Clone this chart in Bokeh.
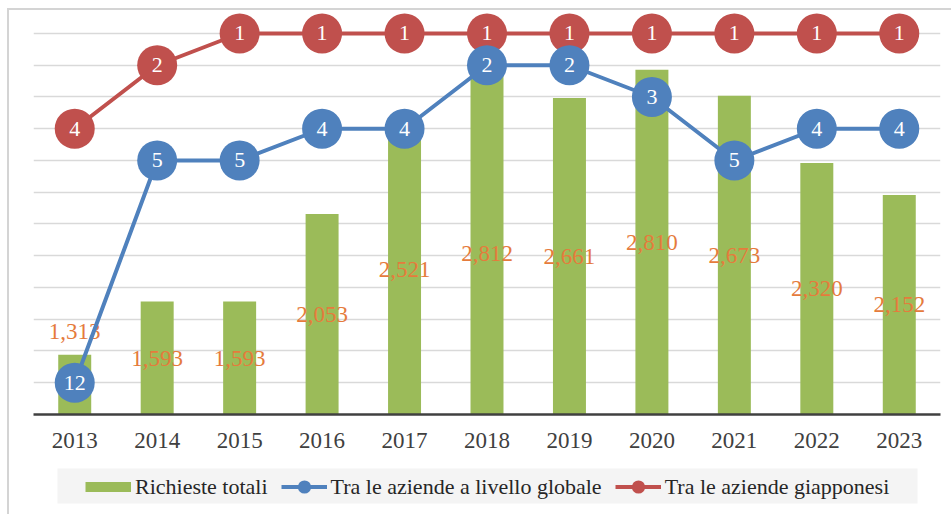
from bokeh.plotting import figure
from bokeh.layouts import column
from bokeh.models import (Range1d, FactorRange, FixedTicker, ColumnDataSource,
                          Legend, LegendItem, BoxAnnotation)
from bokeh.core.properties import value
from bokeh.embed import file_html
from bokeh.resources import INLINE

# ---------------- data ----------------
years = ["2013", "2014", "2015", "2016", "2017", "2018",
         "2019", "2020", "2021", "2022", "2023"]
requests_total = [1313, 1593, 1593, 2053, 2521, 2812, 2661, 2810, 2673, 2320, 2152]
rank_global = [12, 5, 5, 4, 4, 2, 2, 3, 5, 4, 4]
rank_japan = [4, 2, 1, 1, 1, 1, 1, 1, 1, 1, 1]

series_names = ["Richieste totali",
                "Tra le aziende a livello globale",
                "Tra le aziende giapponesi"]

# ---------------- scales ----------------
RANK_BOTTOM = 13          # rank at the x axis line
RANK_TOP_GRID = 1         # rank at the top gridline
RANK_VIEW_TOP = 0.2756    # a little room above the top gridline
BAR_MIN = 1000            # bar axis minimum (at x axis)
BAR_AT_TOP_GRID = 3000    # bar value at the top gridline
per_rank = (BAR_AT_TOP_GRID - BAR_MIN) / (RANK_BOTTOM - RANK_TOP_GRID)
bar_view_top = BAR_MIN + (RANK_BOTTOM - RANK_VIEW_TOP) * per_rank

GREEN = "#9BBB59"
BLUE = "#4F81BD"
RED = "#C0504D"
ORANGE = "#E57B3C"
SERIF = "Liberation Serif"

# layout (px)
FIG_W = 942
BORDER_L, BORDER_R = 24, 11
FRAME_W = FIG_W - BORDER_L - BORDER_R

# label placement tweaks (screen px), by year
label_above = {"2013": -23}
label_nudge = {"2018": 12}

lab_y, lab_dy = [], []
for yr, v in zip(years, requests_total):
    if yr in label_above:
        lab_y.append(v)
        lab_dy.append(label_above[yr])
    else:
        lab_y.append((BAR_MIN + v) / 2)
        lab_dy.append(label_nudge.get(yr, 0))

src = ColumnDataSource(dict(
    year=years, total=requests_total,
    label=[f"{v:,}" for v in requests_total], lab_y=lab_y, lab_dy=lab_dy,
    glob=rank_global, glob_txt=[str(r) for r in rank_global],
    jp=rank_japan, jp_txt=[str(r) for r in rank_japan],
))

p = figure(x_range=FactorRange(*years, range_padding=0),
           y_range=Range1d(RANK_BOTTOM, RANK_VIEW_TOP),
           width=FIG_W, height=450, output_backend="svg", toolbar_location=None,
           min_border_left=BORDER_L, min_border_right=BORDER_R, min_border_top=0,
           min_border_bottom=46, background_fill_color="white",
           border_fill_color="white", outline_line_color=None)
p.extra_y_ranges = {"bars": Range1d(BAR_MIN, bar_view_top)}

p.yaxis.visible = False
p.xgrid.visible = False
p.ygrid.ticker = FixedTicker(ticks=list(range(RANK_TOP_GRID, RANK_BOTTOM)))
p.ygrid.grid_line_color = "#D9D9D9"
p.ygrid.grid_line_width = 1.5

ax = p.xaxis[0]
ax.axis_line_color = "#404040"
ax.axis_line_width = 2.5
ax.major_tick_line_color = None
ax.minor_tick_line_color = None
ax.major_label_text_font = SERIF
ax.major_label_text_font_size = "23px"
ax.major_label_text_color = "#404040"
ax.major_label_standoff = 12

# bars
p.vbar(x="year", top="total", bottom=BAR_MIN, width=0.4, y_range_name="bars",
       fill_color=GREEN, line_color=None, source=src)
p.text(x="year", y="lab_y", text="label", y_offset="lab_dy", y_range_name="bars",
       text_font=value(SERIF), text_font_size="23px", text_color=ORANGE,
       text_align="center", text_baseline="middle", source=src)

# japan rank
p.line(x="year", y="jp", line_color=RED, line_width=4, source=src)
p.scatter(x="year", y="jp", size=40, fill_color=RED, line_color=None, source=src)
p.text(x="year", y="jp", text="jp_txt", text_font=value(SERIF), text_font_size="22px",
       text_color="white", text_align="center", text_baseline="middle", source=src)

# global rank
p.line(x="year", y="glob", line_color=BLUE, line_width=4, source=src)
p.scatter(x="year", y="glob", size=40, fill_color=BLUE, line_color=None, source=src)
p.text(x="year", y="glob", text="glob_txt", text_font=value(SERIF), text_font_size="22px",
       text_color="white", text_align="center", text_baseline="middle", source=src)

# ---------------- legend strip (own small figure, pixel-unit ranges) ----------------
LG_H = 56
lg = figure(x_range=Range1d(0, FRAME_W), y_range=Range1d(0, LG_H), width=FIG_W, height=LG_H,
            output_backend="svg", toolbar_location=None,
            x_axis_type=None, y_axis_type=None,
            min_border_left=BORDER_L, min_border_right=BORDER_R, min_border_top=0,
            min_border_bottom=0, background_fill_color="white",
            border_fill_color="white", outline_line_color=None)
lg.add_layout(BoxAnnotation(left=24, right=884, bottom=13, top=48,
                            fill_color="#F4F4F4", fill_alpha=1, line_color=None,
                            level="underlay"))
nan = float("nan")
px_bar = lg.line(x=[nan], y=[nan], line_color=GREEN, line_width=10)
px_bl = lg.line(x=[nan], y=[nan], line_color=BLUE, line_width=4)
px_bd = lg.scatter(x=[nan], y=[nan], fill_color=BLUE, line_color=None)
px_rl = lg.line(x=[nan], y=[nan], line_color=RED, line_width=4)
px_rd = lg.scatter(x=[nan], y=[nan], fill_color=RED, line_color=None)

legend = Legend(items=[LegendItem(label=series_names[0], renderers=[px_bar]),
                       LegendItem(label=series_names[1], renderers=[px_bl, px_bd]),
                       LegendItem(label=series_names[2], renderers=[px_rl, px_rd])],
                orientation="horizontal", location=(52, 13),
                glyph_width=46, glyph_height=33, padding=1, spacing=13,
                label_standoff=4, label_text_font=SERIF, label_text_font_size="22px",
                label_text_color="#262626", background_fill_alpha=0,
                border_line_color=None, margin=0)
lg.add_layout(legend, "center")

layout = column(p, lg, spacing=0, margin=(8, 0, 0, 7),
                styles={"border": "2px solid #D4D4D4"})

open("out.html", "w").write(file_html(layout, INLINE))
